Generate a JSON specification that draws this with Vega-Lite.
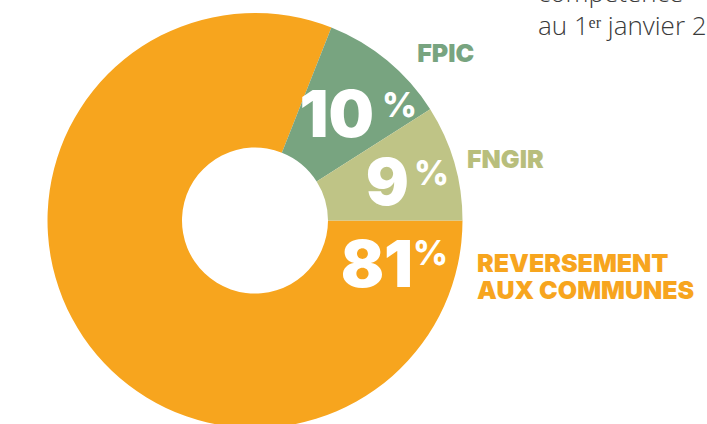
{
  "$schema": "https://vega.github.io/schema/vega-lite/v6.json",
  "autosize": {"type": "none"},
  "width": 510,
  "height": 441,
  "padding": {"left": 0, "top": 0, "right": 197, "bottom": 0},
  "background": "white",
  "config": {"view": {"stroke": null}},
  "title": {
    "text": ["compétence", "au 1ᵉʳ janvier 2020"],
    "orient": "top",
    "anchor": "start",
    "frame": "group",
    "offset": -60.5,
    "dx": 538,
    "baseline": "alphabetic",
    "font": "Open Sans",
    "fontWeight": 300,
    "fontSize": 26,
    "lineHeight": 33,
    "color": "#3a3a3a"
  },
  "data": {
    "values": [
      {"category": "REVERSEMENT AUX COMMUNES", "value": 81, "order": 1, "label": "REVERSEMENT\nAUX COMMUNES"},
      {"category": "FPIC", "value": 10, "order": 2, "label": "FPIC"},
      {"category": "FNGIR", "value": 9, "order": 3, "label": "FNGIR"}
    ]
  },
  "transform": [
    {"stack": "value", "groupby": [], "sort": [{"field": "order", "order": "ascending"}], "as": ["v0", "v1"]}
  ],
  "layer": [
    {
      "mark": {"type": "arc", "outerRadius": 207.5, "innerRadius": 73},
      "encoding": {
        "theta": {"field": "v0", "type": "quantitative", "scale": {"domain": [0, 100], "range": [1.5707963, 7.8539816]}},
        "theta2": {"field": "v1"},
        "color": {
          "field": "category",
          "type": "nominal",
          "scale": {"domain": ["REVERSEMENT AUX COMMUNES", "FPIC", "FNGIR"], "range": ["#F7A51E", "#78A480", "#BFC486"]},
          "legend": null
        }
      }
    },
    {
      "transform": [{"filter": "datum.category === 'FPIC'"}],
      "mark": {"type": "text", "radius": 141, "dy": -8, "align": "right", "baseline": "alphabetic", "font": "Inter", "fontWeight": 900, "fontSize": 64, "color": "white"},
      "encoding": {
        "theta": {"field": "v1", "type": "quantitative", "scale": {"domain": [0, 100], "range": [1.5707963, 7.8539816]}},
        "text": {"field": "value", "type": "quantitative", "format": "d"}
      }
    },
    {
      "transform": [{"filter": "datum.category === 'FPIC'"}],
      "mark": {"type": "text", "radius": 141, "dx": 8, "dy": -28, "align": "left", "baseline": "alphabetic", "font": "Inter", "fontWeight": 800, "fontSize": 34, "color": "white"},
      "encoding": {
        "theta": {"field": "v1", "type": "quantitative", "scale": {"domain": [0, 100], "range": [1.5707963, 7.8539816]}},
        "text": {"value": "%"}
      }
    },
    {
      "transform": [{"filter": "datum.category === 'FNGIR'"}],
      "mark": {"type": "text", "radius": 154, "dy": -15.5, "align": "right", "baseline": "alphabetic", "font": "Inter", "fontWeight": 900, "fontSize": 64, "color": "white"},
      "encoding": {
        "theta": {"field": "v1", "type": "quantitative", "scale": {"domain": [0, 100], "range": [1.5707963, 7.8539816]}},
        "text": {"field": "value", "type": "quantitative", "format": "d"}
      }
    },
    {
      "transform": [{"filter": "datum.category === 'FNGIR'"}],
      "mark": {"type": "text", "radius": 154, "dx": 5, "dy": -35.5, "align": "left", "baseline": "alphabetic", "font": "Inter", "fontWeight": 800, "fontSize": 34, "color": "white"},
      "encoding": {
        "theta": {"field": "v1", "type": "quantitative", "scale": {"domain": [0, 100], "range": [1.5707963, 7.8539816]}},
        "text": {"value": "%"}
      }
    },
    {
      "transform": [{"filter": "datum.order === 1"}],
      "mark": {"type": "text", "radius": 158, "dy": 66.5, "align": "right", "baseline": "alphabetic", "font": "Inter", "fontWeight": 900, "fontSize": 64, "color": "white"},
      "encoding": {
        "theta": {"field": "v0", "type": "quantitative", "scale": {"domain": [0, 100], "range": [1.5707963, 7.8539816]}},
        "text": {"field": "value", "type": "quantitative", "format": "d"}
      }
    },
    {
      "transform": [{"filter": "datum.order === 1"}],
      "mark": {"type": "text", "radius": 158, "dx": 0, "dy": 44.5, "align": "left", "baseline": "alphabetic", "font": "Inter", "fontWeight": 800, "fontSize": 34, "color": "white"},
      "encoding": {
        "theta": {"field": "v0", "type": "quantitative", "scale": {"domain": [0, 100], "range": [1.5707963, 7.8539816]}},
        "text": {"value": "%"}
      }
    },
    {
      "transform": [{"filter": "datum.category === 'FPIC'"}],
      "mark": {"type": "text", "radius": 207.5, "dx": -13, "dy": -47, "align": "left", "baseline": "alphabetic", "font": "Inter", "fontWeight": 900, "fontSize": 25, "color": "#78A480"},
      "encoding": {
        "theta": {"field": "v1", "type": "quantitative", "scale": {"domain": [0, 100], "range": [1.5707963, 7.8539816]}},
        "text": {"field": "label"}
      }
    },
    {
      "transform": [{"filter": "datum.category === 'FNGIR'"}],
      "mark": {"type": "text", "radius": 207.5, "dx": 4.5, "dy": -52.5, "align": "left", "baseline": "alphabetic", "font": "Inter", "fontWeight": 900, "fontSize": 25, "color": "#B8BE7C"},
      "encoding": {
        "theta": {"field": "v1", "type": "quantitative", "scale": {"domain": [0, 100], "range": [1.5707963, 7.8539816]}},
        "text": {"field": "label"}
      }
    },
    {
      "transform": [{"filter": "datum.order === 1"}],
      "mark": {"type": "text", "radius": 207.5, "dx": 14.5, "dy": 51.5, "align": "left", "baseline": "alphabetic", "font": "Inter", "fontWeight": 900, "fontSize": 25, "lineHeight": 27, "lineBreak": "\n", "color": "#F7A51E"},
      "encoding": {
        "theta": {"field": "v0", "type": "quantitative", "scale": {"domain": [0, 100], "range": [1.5707963, 7.8539816]}},
        "text": {"field": "label"}
      }
    }
  ]
}
